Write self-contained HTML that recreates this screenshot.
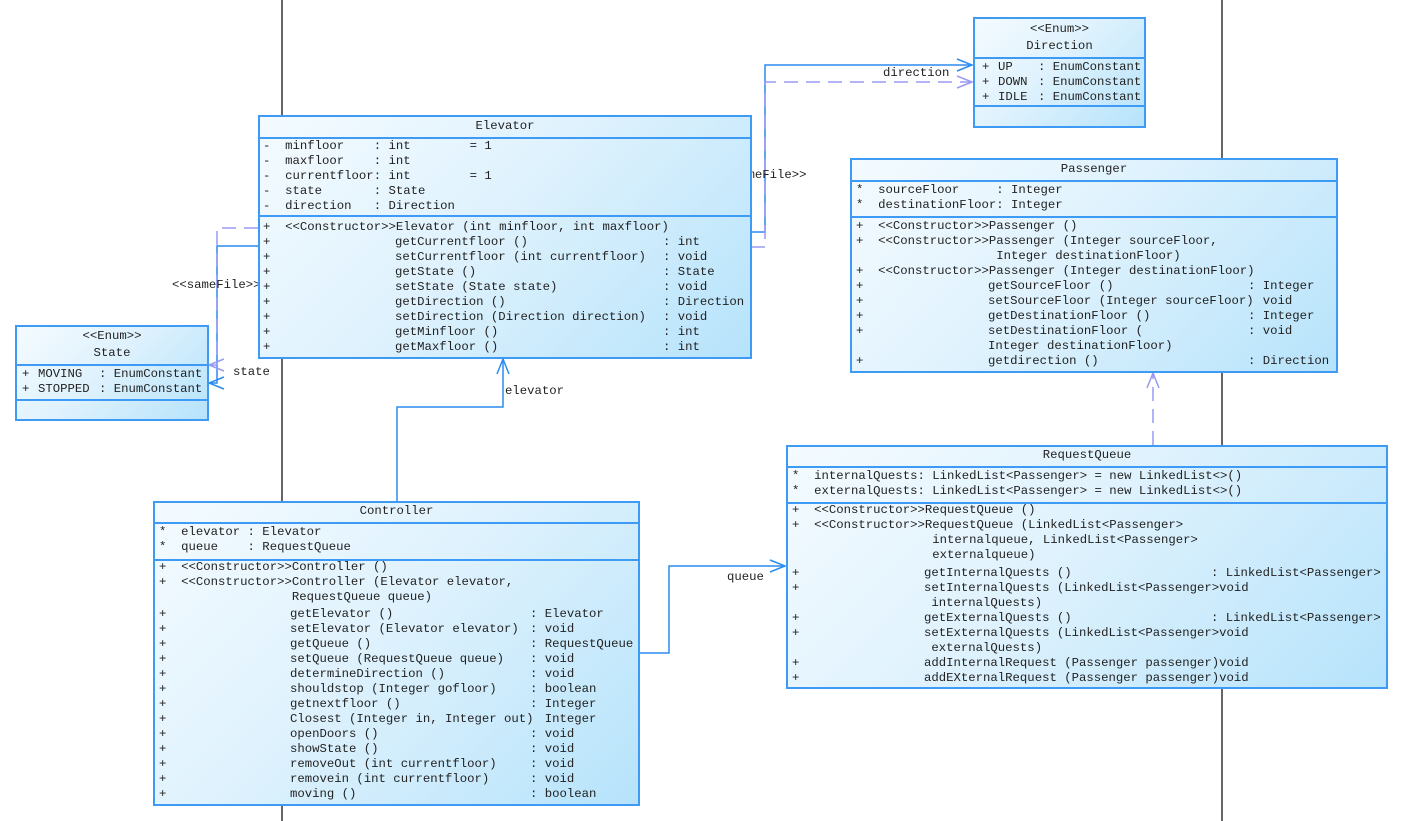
<!DOCTYPE html>
<html><head><meta charset="utf-8"><style>
body{margin:0;width:1425px;height:821px;background:#fff;position:relative;overflow:hidden;font-family:"Liberation Mono","Noto Sans CJK SC",monospace}
.b{position:absolute;border:2px solid #3d9af5;box-sizing:border-box;background:linear-gradient(135deg,#f4fbff 0%,#dff2fd 45%,#b6e3fb 100%)}
.h{position:absolute;left:0;right:0;border-top:2px solid #3d9af5}
.t{position:absolute;white-space:pre;font-size:12.3px;line-height:15px;color:#222;margin-top:2px}
.c{text-align:center}
svg{position:absolute;left:0;top:0}
</style></head><body>
<svg width="1425" height="821">
<line x1="282" y1="0" x2="282" y2="821" stroke="#333" stroke-width="1.5"/>
<line x1="1222" y1="0" x2="1222" y2="821" stroke="#333" stroke-width="1.5"/>
<g fill="none" stroke-width="1.5">
<polyline points="751,232 765,232 765,65 972,65" stroke="#2b8cf0"/>
<polyline points="957,59 972,65 957,71" stroke="#2b8cf0"/>
<polyline points="751,247 765,247 765,82 972,82" stroke="#9a9af5" stroke-dasharray="14,8"/>
<polyline points="957,76 972,82 957,88" stroke="#9a9af5"/>
<polyline points="258,246 217,246 217,383 209,383" stroke="#2b8cf0"/>
<polyline points="224,377 209,383 224,389" stroke="#2b8cf0"/>
<polyline points="258,228 217,228 217,365 209,365" stroke="#9a9af5" stroke-dasharray="14,8"/>
<polyline points="224,359 209,365 224,371" stroke="#9a9af5"/>
<polyline points="397,501 397,407 503,407 503,359" stroke="#2b8cf0"/>
<polyline points="497,374 503,359 509,374" stroke="#2b8cf0"/>
<polyline points="639,653 669,653 669,566 785,566" stroke="#2b8cf0"/>
<polyline points="770,560 785,566 770,572" stroke="#2b8cf0"/>
<polyline points="1153,445 1153,373" stroke="#9a9af5" stroke-dasharray="14,8"/>
<polyline points="1147,388 1153,373 1159,388" stroke="#9a9af5"/>
</g>
</svg>
<div class="t" style="left:883px;top:64px">direction</div>
<div class="t" style="left:718px;top:166px">&lt;&lt;sameFile&gt;&gt;</div>
<div class="t" style="left:172px;top:276px">&lt;&lt;sameFile&gt;&gt;</div>
<div class="t" style="left:233px;top:363px">state</div>
<div class="t" style="left:505px;top:382px">elevator</div>
<div class="t" style="left:727px;top:568px">queue</div>

<!-- Direction -->
<div class="b" style="left:973px;top:17px;width:173px;height:111px">
<div class="h" style="top:38px"></div><div class="h" style="top:86px"></div></div>
<div class="t c" style="left:973px;width:173px;top:20px">&lt;&lt;Enum&gt;&gt;</div>
<div class="t c" style="left:973px;width:173px;top:37px">Direction</div>
<div class="t" style="left:982px;top:58px">+
+
+</div>
<div class="t" style="left:998px;top:58px">UP
DOWN
IDLE</div>
<div class="t" style="left:1038px;top:58px">: EnumConstant
: EnumConstant
: EnumConstant</div>

<!-- Elevator -->
<div class="b" style="left:258px;top:115px;width:494px;height:244px">
<div class="h" style="top:20px"></div><div class="h" style="top:98px"></div></div>
<div class="t c" style="left:258px;width:494px;top:117px">Elevator</div>
<div class="t" style="left:263px;top:137px">-  minfloor    : int        = 1
-  maxfloor    : int
-  currentfloor: int        = 1
-  state       : State
-  direction   : Direction</div>
<div class="t" style="left:263px;top:218px">+  &lt;&lt;Constructor&gt;&gt;Elevator (int minfloor, int maxfloor)
+
+
+
+
+
+
+
+</div>
<div class="t" style="left:395px;top:233px">getCurrentfloor ()
setCurrentfloor (int currentfloor)
getState ()
setState (State state)
getDirection ()
setDirection (Direction direction)
getMinfloor ()
getMaxfloor ()</div>
<div class="t" style="left:663px;top:233px">: int
: void
: State
: void
: Direction
: void
: int
: int</div>

<!-- State -->
<div class="b" style="left:15px;top:325px;width:194px;height:96px">
<div class="h" style="top:37px"></div><div class="h" style="top:72px"></div></div>
<div class="t c" style="left:15px;width:194px;top:327px">&lt;&lt;Enum&gt;&gt;</div>
<div class="t c" style="left:15px;width:194px;top:344px">State</div>
<div class="t" style="left:22px;top:365px">+
+</div>
<div class="t" style="left:38px;top:365px">MOVING
STOPPED</div>
<div class="t" style="left:99px;top:365px">: EnumConstant
: EnumConstant</div>

<!-- Passenger -->
<div class="b" style="left:850px;top:158px;width:488px;height:215px">
<div class="h" style="top:20px"></div><div class="h" style="top:56px"></div></div>
<div class="t c" style="left:850px;width:488px;top:160px">Passenger</div>
<div class="t" style="left:856px;top:181px">*  sourceFloor     : Integer
*  destinationFloor: Integer</div>
<div class="t" style="left:856px;top:217px">+  &lt;&lt;Constructor&gt;&gt;Passenger ()
+  &lt;&lt;Constructor&gt;&gt;Passenger (Integer sourceFloor,
                   Integer destinationFloor)
+  &lt;&lt;Constructor&gt;&gt;Passenger (Integer destinationFloor)
+
+
+
+

+</div>
<div class="t" style="left:988px;top:277px">getSourceFloor ()
setSourceFloor (Integer sourceFloor)
getDestinationFloor ()
setDestinationFloor (
Integer destinationFloor)
getdirection ()</div>
<div class="t" style="left:1248px;top:277px">: Integer
  void
: Integer
: void

: Direction</div>

<!-- RequestQueue -->
<div class="b" style="left:786px;top:445px;width:602px;height:244px">
<div class="h" style="top:19px"></div><div class="h" style="top:55px"></div></div>
<div class="t c" style="left:786px;width:602px;top:446px">RequestQueue</div>
<div class="t" style="left:792px;top:467px">*  internalQuests: LinkedList&lt;Passenger&gt; = new LinkedList&lt;&gt;()
*  externalQuests: LinkedList&lt;Passenger&gt; = new LinkedList&lt;&gt;()</div>
<div class="t" style="left:792px;top:501px">+  &lt;&lt;Constructor&gt;&gt;RequestQueue ()
+  &lt;&lt;Constructor&gt;&gt;RequestQueue (LinkedList&lt;Passenger&gt;
                   internalqueue, LinkedList&lt;Passenger&gt;
                   externalqueue)</div>
<div class="t" style="left:792px;top:564px">+
+

+
+

+
+</div>
<div class="t" style="left:924px;top:564px">getInternalQuests ()
setInternalQuests (LinkedList&lt;Passenger&gt;void
 internalQuests)
getExternalQuests ()
setExternalQuests (LinkedList&lt;Passenger&gt;void
 externalQuests)
addInternalRequest (Passenger passenger)void
addEXternalRequest (Passenger passenger)void</div>
<div class="t" style="left:1211px;top:564px">: LinkedList&lt;Passenger&gt;


: LinkedList&lt;Passenger&gt;</div>

<!-- Controller -->
<div class="b" style="left:153px;top:501px;width:487px;height:305px">
<div class="h" style="top:19px"></div><div class="h" style="top:56px"></div></div>
<div class="t c" style="left:153px;width:487px;top:502px">Controller</div>
<div class="t" style="left:159px;top:523px">*  elevator : Elevator
*  queue    : RequestQueue</div>
<div class="t" style="left:159px;top:558px">+  &lt;&lt;Constructor&gt;&gt;Controller ()
+  &lt;&lt;Constructor&gt;&gt;Controller (Elevator elevator,
                  RequestQueue queue)</div>
<div class="t" style="left:159px;top:605px">+
+
+
+
+
+
+
+
+
+
+
+
+</div>
<div class="t" style="left:290px;top:605px">getElevator ()
setElevator (Elevator elevator)
getQueue ()
setQueue (RequestQueue queue)
determineDirection ()
shouldstop (Integer gofloor)
getnextfloor ()
Closest (Integer in, Integer out)
openDoors ()
showState ()
removeOut (int currentfloor)
removein (int currentfloor)
moving ()</div>
<div class="t" style="left:530px;top:605px">: Elevator
: void
: RequestQueue
: void
: void
: boolean
: Integer
  Integer
: void
: void
: void
: void
: boolean</div>
</body></html>
